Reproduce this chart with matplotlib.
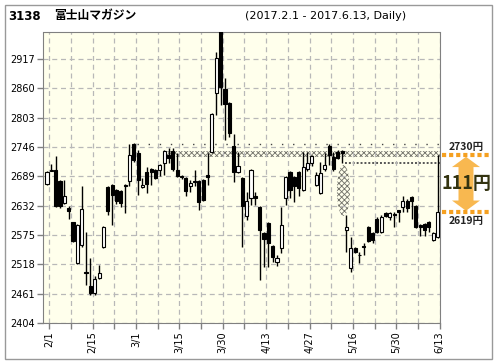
import numpy as np
import matplotlib
matplotlib.use("Agg")
import matplotlib.pyplot as plt
from matplotlib.patches import Ellipse, Rectangle, Polygon

plt.rcParams['font.family'] = ['DejaVu Sans', 'Noto Sans CJK JP']
plt.rcParams['hatch.linewidth'] = 0.6

# daily OHLC, 2017/2/1 - 2017/6/13
opens = [2674, 2700, 2701, 2680, 2637, 2628, 2600, 2521, 2556, 2503,
         2476, 2462, 2491, 2552, 2668, 2672, 2662, 2660, 2673, 2680,
         2752, 2734, 2668, 2697, 2703, 2701, 2701, 2715, 2730, 2738,
         2701, 2689, 2686, 2670, 2680, 2680, 2682, 2692, 2736, 2851,
         2990, 2859, 2831, 2748, 2697, 2686, 2612, 2647, 2651, 2630,
         2579, 2598, 2554, 2522, 2550, 2647, 2697, 2688, 2697, 2662,
         2703, 2715, 2672, 2656, 2703, 2748, 2726, 2736, 2738, 2585,
         2511, 2550, 2537, 2553, 2590, 2579, 2606, 2581, 2618, 2610,
         2616, 2623, 2629, 2642, 2648, 2631, 2595, 2596, 2601, 2565,
         2572]
closes = [2697, 2701, 2631, 2631, 2651, 2622, 2563, 2594, 2626, 2501,
          2462, 2490, 2501, 2591, 2621, 2653, 2641, 2638, 2671, 2730,
          2721, 2682, 2672, 2674, 2698, 2686, 2711, 2738, 2725, 2703,
          2690, 2688, 2660, 2676, 2678, 2639, 2643, 2688, 2810, 2919,
          2862, 2830, 2773, 2697, 2709, 2631, 2641, 2701, 2647, 2585,
          2567, 2559, 2532, 2530, 2594, 2688, 2662, 2670, 2666, 2707,
          2715, 2728, 2692, 2696, 2711, 2730, 2703, 2725, 2734, 2590,
          2550, 2542, 2536, 2552, 2563, 2565, 2581, 2610, 2612, 2618,
          2614, 2619, 2642, 2627, 2641, 2591, 2591, 2585, 2590, 2578,
          2620]
highs = [2699, 2713, 2728, 2682, 2682, 2631, 2600, 2596, 2670, 2581,
         2530, 2495, 2517, 2593, 2670, 2675, 2665, 2662, 2674, 2752,
         2754, 2740, 2686, 2707, 2705, 2703, 2713, 2740, 2744, 2744,
         2734, 2692, 2688, 2682, 2701, 2682, 2684, 2734, 2812, 2931,
         3000, 2880, 2833, 2771, 2736, 2688, 2658, 2703, 2659, 2632,
         2581, 2600, 2556, 2536, 2630, 2690, 2699, 2690, 2699, 2736,
         2736, 2730, 2698, 2717, 2734, 2752, 2736, 2740, 2741, 2614,
         2571, 2552, 2542, 2559, 2592, 2581, 2610, 2614, 2620, 2620,
         2620, 2623, 2651, 2644, 2650, 2633, 2597, 2598, 2603, 2580,
         2730]
lows = [2672, 2699, 2629, 2627, 2635, 2606, 2561, 2519, 2552, 2478,
        2458, 2458, 2490, 2550, 2614, 2595, 2635, 2630, 2618, 2670,
        2716, 2653, 2666, 2656, 2672, 2684, 2690, 2692, 2715, 2700,
        2688, 2684, 2650, 2658, 2670, 2624, 2641, 2672, 2734, 2808,
        2828, 2760, 2766, 2678, 2695, 2552, 2604, 2633, 2633, 2488,
        2513, 2513, 2522, 2515, 2540, 2633, 2647, 2639, 2651, 2660,
        2700, 2709, 2670, 2654, 2700, 2711, 2699, 2722, 2715, 2542,
        2503, 2540, 2520, 2536, 2561, 2560, 2579, 2579, 2610, 2604,
        2590, 2601, 2620, 2620, 2607, 2589, 2573, 2573, 2581, 2563,
        2570]

date_labels = ["2/1", "2/15", "3/1", "3/15", "3/30", "4/13", "4/27", "5/16", "5/30", "6/13"]
y_ticks = [2404, 2461, 2518, 2575, 2632, 2689, 2746, 2803, 2860, 2917]

# overlays
resist_line = 2752
band_lo, band_hi = 2727, 2739
gap_line = 2714
gap_hi, gap_lo = 2711, 2612
mark_hi, mark_lo = 2730, 2619

W, H = 496, 364
fig = plt.figure(figsize=(W / 100, H / 100), dpi=100)
fig.patch.set_facecolor('white')

L, R, T, B = 43.3, 440, 32.5, 323
ax = fig.add_axes([L / W, 1 - B / H, (R - L) / W, (B - T) / H])
ax.set_facecolor('#FFFFEC')

n = len(opens)
days = np.arange(n)
o = np.array(opens)
c = np.array(closes)
up = c >= o

ax.set_xlim(-0.85, n - 1 + 0.55)
ax.set_ylim(2404, 2968.5)

# grid
major = np.arange(0, n, 10) + 0.5
minor = np.arange(5, n, 10) + 0.5
ax.set_xticks(major)
ax.set_xticklabels(date_labels, rotation=90, fontsize=7)
ax.set_xticks(minor, minor=True)
ax.set_yticks(y_ticks)
ax.set_yticklabels([str(v) for v in y_ticks], fontsize=7)
ax.grid(True, which='both', color='#B8B8B8', linestyle=(0, (4, 3)), linewidth=0.9, zorder=0)
ax.tick_params(axis='both', which='both', color='#808080', length=4, width=1, pad=2)
for s in ax.spines.values():
    s.set_color('#808080')

# resistance band / lines
ax.hlines(resist_line, 20.85, n - 1 + 0.55, colors='#444444', linestyles=(0, (1, 7)), lw=1, zorder=1)
ax.fill_between([27.6, n - 1 + 0.55], band_lo, band_hi, facecolor='none', hatch='xxxxxx',
                edgecolor='#707068', lw=0, zorder=1)
ax.hlines(gap_line, 68.6, n - 1 + 0.55, colors='#555555', linestyles=(0, (1, 1)), lw=1.4, zorder=1)
ax.add_patch(Ellipse((68.3, (gap_hi + gap_lo) / 2), 3.0, gap_hi - gap_lo, facecolor='none',
                     hatch='xxxxxx', edgecolor='#707068', lw=0, zorder=1))

# candles
ax.vlines(days, lows, highs, colors='black', lw=1, zorder=2)
ax.bar(days, np.abs(c - o), bottom=np.minimum(o, c), width=0.72,
       color=np.where(up, 'white', 'black'), edgecolor='black', linewidth=0.8, zorder=3)

# right panel
rx = fig.add_axes([R / W, 1 - B / H, 52 / W, (B - T) / H])
rx.set_xlim(0, 52)
rx.set_ylim(ax.get_ylim())
rx.axis('off')
orange = '#F5A020'
rx.hlines([mark_hi, mark_lo], 2, 50, colors=orange, linestyles=(0, (1, 0.7)), lw=3)
cx = 26
hl = 20
pts = [(cx, mark_hi - 3), (cx + 14, mark_hi - 3 - hl), (cx + 7.5, mark_hi - 3 - hl),
       (cx + 7.5, mark_lo + 3 + hl), (cx + 14, mark_lo + 3 + hl), (cx, mark_lo + 3),
       (cx - 14, mark_lo + 3 + hl), (cx - 7.5, mark_lo + 3 + hl), (cx - 7.5, mark_hi - 3 - hl),
       (cx - 14, mark_hi - 3 - hl)]
rx.add_patch(Polygon(pts, closed=True, facecolor='#F8B850', edgecolor='none'))
jp = ['Noto Sans CJK JP', 'DejaVu Sans']
rx.text(cx, mark_hi + 16, f"{mark_hi}円", ha='center', va='center', fontsize=7.5,
        fontweight='bold', family=jp, color='#222222')
rx.text(cx, mark_lo - 16, f"{mark_lo}円", ha='center', va='center', fontsize=7.5,
        fontweight='bold', family=jp, color='#222222')
rx.text(cx, (mark_hi + mark_lo) / 2, f"{mark_hi - mark_lo}円", ha='center', va='center',
        fontsize=13, fontweight='bold', family=jp, color='#333310')

# frame and titles
fig.patches.append(Rectangle((5 / W, 1 - 359 / H), 486.5 / W, 354 / H, transform=fig.transFigure,
                             fill=False, edgecolor='#999999', lw=1))
fig.text(8 / W, 1 - 16 / H, "3138", fontsize=8.5, fontweight='bold', va='center', ha='left')
fig.text(54 / W, 1 - 16 / H, "富士山マガジン", fontsize=8.5, fontweight='bold',
         family=jp, va='center', ha='left')
fig.text(245 / W, 1 - 16 / H, "(2017.2.1 - 2017.6.13, Daily)", fontsize=8, va='center', ha='left')

fig.savefig("out.png", dpi=100)
